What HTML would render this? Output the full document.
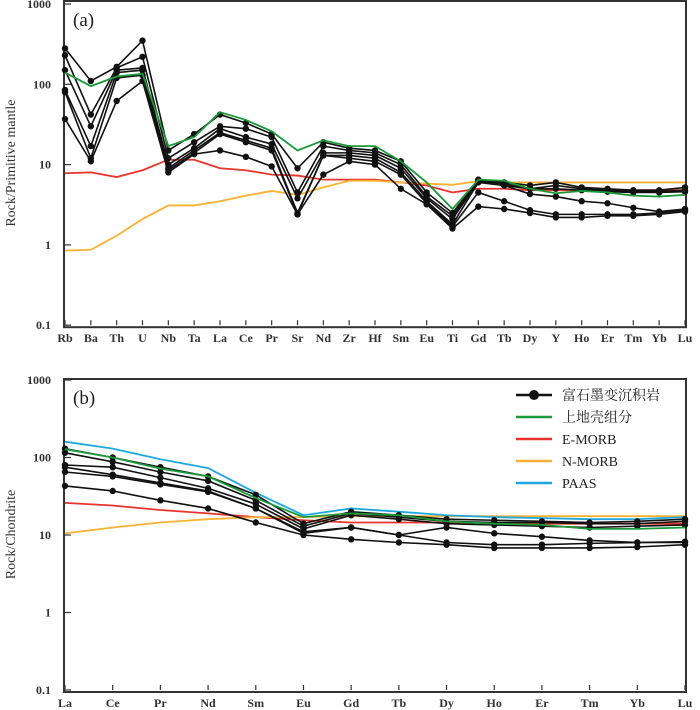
<!DOCTYPE html>
<html><head><meta charset="utf-8"><style>
html,body{margin:0;padding:0;background:#fff;}
svg{display:block;font-family:"Liberation Serif","Noto Serif CJK SC",serif;}
</style></head><body>
<svg id="chart" width="700" height="710" viewBox="0 0 700 710"></svg>
<script>
const catsA = ["Rb","Ba","Th","U","Nb","Ta","La","Ce","Pr","Sr","Nd","Zr","Hf","Sm","Eu","Ti","Gd","Tb","Dy","Y","Ho","Er","Tm","Yb","Lu"];
const samplesA = [
 [280,110,165,350,15,24,42,33,24,9,19,16,15,11,4.5,2.5,6.5,6,5.5,6,5.2,5,4.8,4.8,5.2],
 [230,42,160,220,12,19,30,28,22,4.5,17,15,14,10,4,2.3,6.3,5.8,5,5.5,5,4.8,4.6,4.6,4.8],
 [150,30,150,160,10,16,28,22,18,3.8,14,14,13,9,3.8,2.1,6.2,5.5,5,5,4.8,4.6,4.5,4.5,4.6],
 [85,17,140,150,9,15,25,20,16,2.5,13,13,12,8,3.5,1.8,6,5.5,4.3,4,3.5,3.3,2.9,2.6,2.8],
 [80,12,120,130,8.5,14,24,19,15,2.4,13,12,11,7.5,3.3,1.7,4.5,3.5,2.7,2.4,2.4,2.4,2.4,2.5,2.7],
 [37,11,62,110,8,13.5,15,12.5,9.5,2.4,7.5,11,10,5,3.2,1.6,3,2.8,2.5,2.2,2.2,2.3,2.3,2.4,2.6]
];
const uccA = [140,95,125,135,17,22,45,36,26,15,20,17,17,11,6,2.8,6.5,6.3,5,4.4,4.7,4.5,4.1,4.0,4.2];
const emorbA = [7.8,8,7,8.5,11.5,11.5,9,8.5,7.5,7.3,6.5,6.5,6.5,6,5.5,4.5,5,5,4.8,4.8,4.8,4.8,4.8,4.8,4.8];
const nmorbA = [0.85,0.87,1.3,2.1,3.1,3.1,3.5,4.1,4.7,4.2,5.2,6.3,6.3,6.0,5.8,5.6,6.2,6,6,6,6,6,6,6,6];

const catsB = ["La","Ce","Pr","Nd","Sm","Eu","Gd","Tb","Dy","Ho","Er","Tm","Yb","Lu"];
const samplesB = [
 [130,100,75,57,33,14,20,18,16,15.5,15,14.5,15,16],
 [115,88,65,50,28,13,19,17,15,14.5,14.5,14,14,15],
 [80,75,55,40,25,12,18,16,14,13.5,13,12.5,13,13.5],
 [75,60,47,37,22,11,12.5,10,12.5,10.5,9.5,8.5,8,8.2],
 [65,57,45,36,22,10.5,12.5,10,8,7.5,7.5,7.8,8,8],
 [43,37,28,22,14.5,10,8.8,8,7.5,6.8,6.8,6.8,7,7.5]
];
const uccB = [128,100,72,57,30,17,19,18,15,14,13.5,12,12,12.5];
const paasB = [160,130,95,73,35,18,22,20,18,17,16.5,16,16,17];
const emorbB = [26,24,21,19,17,15.5,14.5,14.5,14.5,14.5,14,14,14,14];
const nmorbB = [10.5,12.5,14.5,16,17,17,17.5,17.5,17.5,17.5,17.5,17.5,17.5,17.5];
const yTicks = ["0.1","1","10","100","1000"];

const NS="http://www.w3.org/2000/svg";
const svg=document.getElementById('chart');
function mk(tag,attrs,parent){const e=document.createElementNS(NS,tag);for(const k in attrs)e.setAttribute(k,attrs[k]);(parent||svg).appendChild(e);return e;}

function panel(p){
  const g=mk('g',{});
  
  
  const x=i=>p.x0+(p.x1-p.x0)*i/(p.cats.length-1);
  const y=v=>p.yTop+(3-Math.log10(v))*p.dec;
  const bottom=y(0.1);
  const frame=mk('rect',{x:p.x0-1,y:p.frameTop,width:p.x1-p.x0+2,height:bottom+2-p.frameTop,fill:'none',stroke:'#333','stroke-width':2},g);
  
  
  yTicks.forEach(t=>{const v=parseFloat(t);const yy=y(v);
    mk('line',{x1:p.x0,x2:p.x0+6,y1:yy,y2:yy,stroke:'#333','stroke-width':1.2},g);
    const tx=mk('text',{x:p.x0-14,y:yy+4,'text-anchor':'end','font-size':12,'font-weight':'bold',fill:'#333'},g);
    tx.textContent=t;
    
    
  });
  p.cats.forEach((c,i)=>{const xx=x(i);
    mk('line',{x1:xx,x2:xx,y1:bottom,y2:bottom-5,stroke:'#333','stroke-width':1.2},g);
    const tx=mk('text',{x:xx,y:bottom+17,'text-anchor':'middle','font-size':12,'font-weight':'bold',fill:'#333'},g);
    tx.textContent=c;
    
    
  });
  const yl=mk('text',{x:0,y:0,transform:`translate(15,${(p.frameTop+bottom)/2}) rotate(-90)`,'text-anchor':'middle','font-size':14,fill:'#333'},g);
  yl.textContent=p.ylabel;
  
  
  const lab=mk('text',{x:p.x0+8,y:p.frameTop+25,'font-size':19,fill:'#222'},g);
  lab.textContent=p.tag;
  
  
  const line=(vals,col,nm,w)=>{const pl=mk('polyline',{points:vals.map((v,i)=>x(i)+','+y(v)).join(' '),fill:'none',stroke:col,'stroke-width':w||1.8},g);
    
    };
  p.refs.forEach(r=>line(r[0],r[1],r[2]));
  p.samples.forEach((s,k)=>{line(s,'#111','sample-line-'+(k+1),1.6);
    s.forEach((v,i)=>{const c=mk('circle',{cx:x(i),cy:y(v),r:3.2,fill:'#111'},g);
      
      });});
  p.top.forEach(r=>line(r[0],r[1],r[2]));
}
panel({name:'panel-a',tag:'(a)',cats:catsA,x0:65,x1:685,yTop:4,dec:80.3,frameTop:1,ylabel:'Rock/Primitive mantle',
  refs:[[emorbA,'#e8342a','e-morb-line'],[nmorbA,'#f9b233','n-morb-line']],samples:samplesA,top:[[uccA,'#1a9a3a','upper-crust-line']]});
panel({name:'panel-b',tag:'(b)',cats:catsB,x0:65,x1:685,yTop:380,dec:77.5,frameTop:379,ylabel:'Rock/Chondrite',
  refs:[[emorbB,'#e8342a','e-morb-line'],[nmorbB,'#f9b233','n-morb-line'],[paasB,'#1ea8e0','paas-line']],samples:samplesB,top:[[uccB,'#1a9a3a','upper-crust-line']]});

const leg=mk('g',{});


const items=[['富石墨变沉积岩','#111',true],['上地壳组分','#1a9a3a'],['E-MORB','#e8342a'],['N-MORB','#f9b233'],['PAAS','#1ea8e0']];
items.forEach((it,k)=>{const yy=395+k*22;
  mk('line',{x1:516,x2:552,y1:yy,y2:yy,stroke:it[1],'stroke-width':2.5},leg);
  if(it[2]) mk('circle',{cx:534,cy:yy,r:5,fill:'#111'},leg);
  const t=mk('text',{x:562,y:yy+5,'font-size':14,fill:'#222'},leg);
  t.textContent=it[0];
  
  
});
</script>
</body></html>
